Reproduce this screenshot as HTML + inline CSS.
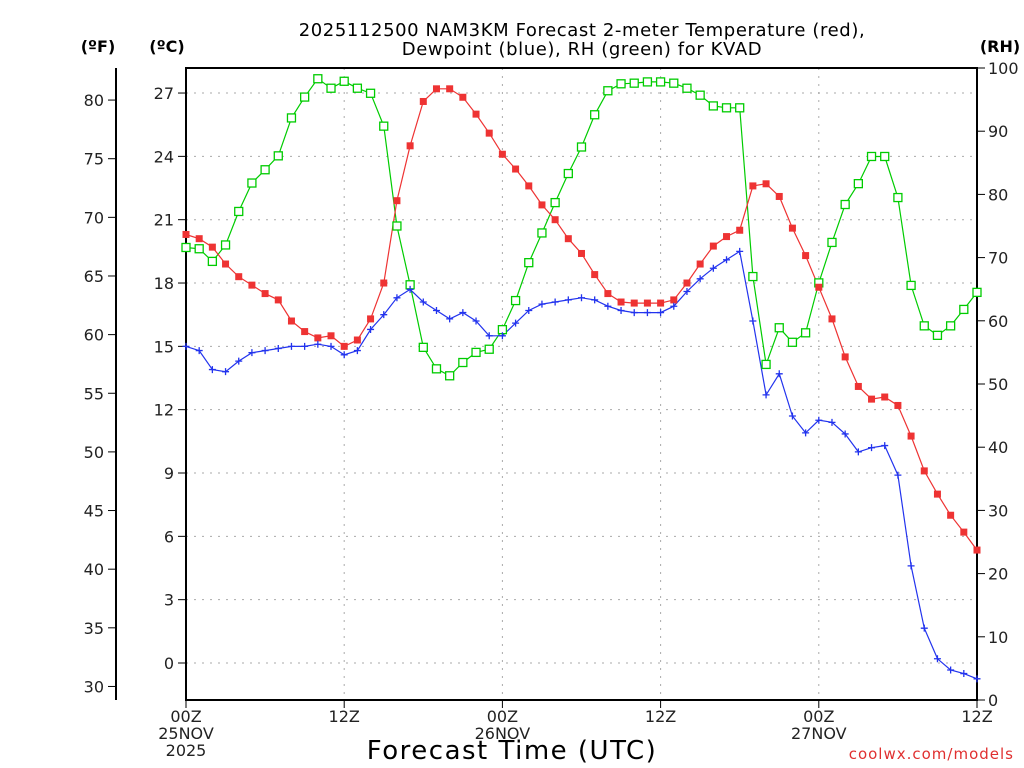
<!DOCTYPE html>
<html><head><meta charset="utf-8"><style>
body{margin:0;background:#fff}
svg{display:block;font-family:"DejaVu Sans","Liberation Sans",sans-serif}
</style></head><body>
<svg id="chart" width="1024" height="768" xmlns="http://www.w3.org/2000/svg">
<text x="582" y="36" text-anchor="middle" font-size="18" letter-spacing="0.6" fill="#000">2025112500 NAM3KM Forecast 2-meter Temperature (red),</text>
<text x="582" y="55" text-anchor="middle" font-size="18" letter-spacing="0.6" fill="#000">Dewpoint (blue), RH (green) for KVAD</text>
<text x="98" y="52" text-anchor="middle" font-size="16" font-weight="bold">(ºF)</text>
<text x="167" y="52" text-anchor="middle" font-size="16" font-weight="bold">(ºC)</text>
<text x="1000" y="52" text-anchor="middle" font-size="16" font-weight="bold">(RH)</text>
<text x="512" y="759" text-anchor="middle" font-size="26" letter-spacing="1.5">Forecast Time (UTC)</text>
<text x="1014" y="759" text-anchor="end" font-size="15" fill="#e03030" letter-spacing="1">coolwx.com/models</text>
<g id="grid"></g><g id="axes"></g><g id="series"></g>
</svg>
<script>
const hours=[];for(let i=0;i<=60;i++)hours.push(i);
const tempC=[20.3,20.1,19.7,18.9,18.3,17.9,17.5,17.2,16.2,15.7,15.4,15.5,15.0,15.3,16.3,18.0,21.9,24.5,26.6,27.2,27.2,26.8,26.0,25.1,24.1,23.4,22.6,21.7,21.0,20.1,19.4,18.4,17.5,17.1,17.05,17.05,17.05,17.2,18.0,18.9,19.75,20.2,20.5,22.6,22.7,22.1,20.6,19.3,17.8,16.3,14.5,13.1,12.5,12.6,12.2,10.75,9.1,8.0,7.0,6.2,5.35];
const dewC=[15.0,14.8,13.9,13.8,14.3,14.7,14.8,14.9,15.0,15.0,15.1,15.0,14.6,14.8,15.8,16.5,17.3,17.7,17.1,16.7,16.3,16.6,16.2,15.5,15.5,16.1,16.7,17.0,17.1,17.2,17.3,17.2,16.9,16.7,16.6,16.6,16.6,16.9,17.6,18.2,18.7,19.1,19.5,16.2,12.7,13.7,11.7,10.9,11.5,11.4,10.85,10.0,10.2,10.3,8.9,4.6,1.65,0.2,-0.33,-0.5,-0.75];
const rh=[71.6,71.4,69.4,72,77.3,81.8,83.9,86.1,92.1,95.4,98.3,96.8,97.9,96.8,96,90.8,75,65.7,55.8,52.4,51.3,53.4,55,55.5,58.6,63.2,69.2,73.9,78.7,83.3,87.5,92.6,96.4,97.5,97.6,97.8,97.8,97.6,96.8,95.7,94,93.7,93.7,67,53.1,58.9,56.6,58.1,66,72.4,78.4,81.7,86,86,79.5,65.6,59.2,57.7,59.2,61.8,64.5];
const cTicks=[0,3,6,9,12,15,18,21,24,27];
const fTicks=[30,35,40,45,50,55,60,65,70,75,80];
const rhTicks=[0,10,20,30,40,50,60,70,80,90,100];
const xTicks=[0,12,24,36,48,60];
const xLabels=["00Z|25NOV|2025","12Z","00Z|26NOV","12Z","00Z|27NOV","12Z"];
const L=186,R=977,T=68,B=700;
const xs=h=>L+(R-L)*h/60;
const yc=c=>663-c*21.11;
const yf=f=>yc((f-32)*5/9);
const yr=r=>B-(B-T)*r/100;
const NS="http://www.w3.org/2000/svg";
function mk(p,t,a){const e=document.createElementNS(NS,t);for(const k in a)e.setAttribute(k,a[k]);p.appendChild(e);return e;}
const grid=document.getElementById('grid'),axes=document.getElementById('axes'),ser=document.getElementById('series');
cTicks.forEach(c=>{
 const g=mk(grid,'line',{x1:L,x2:R,y1:yc(c),y2:yc(c),stroke:'#aaa','stroke-dasharray':'2,6'});
 
 
 mk(axes,'line',{x1:L-8,x2:L,y1:yc(c),y2:yc(c),stroke:'#000'});
 const t=mk(axes,'text',{x:L-12,y:yc(c)+6,'text-anchor':'end','font-size':16,fill:'#222'});t.textContent=c;
 
 
});
xTicks.forEach((h,i)=>{
 if(h>0&&h<60){const g=mk(grid,'line',{x1:xs(h),x2:xs(h),y1:T,y2:B,stroke:'#aaa','stroke-dasharray':'2,6'});
 
 }
 mk(axes,'line',{x1:xs(h),x2:xs(h),y1:B,y2:B+8,stroke:'#000'});
 xLabels[i].split('|').forEach((s,j)=>{const t=mk(axes,'text',{x:xs(h),y:B+22+j*17,'text-anchor':'middle','font-size':16,fill:'#222'});t.textContent=s;
 
 });
});
mk(axes,'line',{x1:116,x2:116,y1:T,y2:B,stroke:'#000','stroke-width':2});
fTicks.forEach(f=>{
 mk(axes,'line',{x1:108,x2:116,y1:yf(f),y2:yf(f),stroke:'#000'});
 const t=mk(axes,'text',{x:104,y:yf(f)+6,'text-anchor':'end','font-size':16,fill:'#222'});t.textContent=f;
 
 
});
rhTicks.forEach(r=>{
 mk(axes,'line',{x1:R,x2:R+8,y1:yr(r),y2:yr(r),stroke:'#000'});
 const t=mk(axes,'text',{x:R+11,y:yr(r)+6,'font-size':16,fill:'#222'});t.textContent=r;
 
 
});
mk(axes,'rect',{x:L,y:T,width:R-L,height:B-T,fill:'none',stroke:'#000','stroke-width':2});
function line(vals,yfn,col,name){
 const pts=vals.map((v,i)=>xs(hours[i]).toFixed(1)+','+yfn(v).toFixed(1)).join(' ');
 const p=mk(ser,'polyline',{points:pts,fill:'none',stroke:col,'stroke-width':1.2});
 
 
}
line(rh,yr,'#00cc00','rh');
line(tempC,yc,'#ee3333','temperature');
line(dewC,yc,'#2233ee','dewpoint');
rh.forEach((v,i)=>{const m=mk(ser,'rect',{x:xs(hours[i])-4,y:yr(v)-4,width:8,height:8,fill:'#fff',stroke:'#00cc00','stroke-width':1.3});
 
 });
tempC.forEach((v,i)=>{const m=mk(ser,'rect',{x:xs(hours[i])-3.5,y:yc(v)-3.5,width:7,height:7,fill:'#ee3333'});
 
 });
dewC.forEach((v,i)=>{const x=xs(hours[i]),y=yc(v);const m=mk(ser,'path',{d:`M${x-3.5},${y}H${x+3.5}M${x},${y-3.5}V${y+3.5}`,stroke:'#2233ee','stroke-width':1.3});
 
 });
</script>
</body></html>
